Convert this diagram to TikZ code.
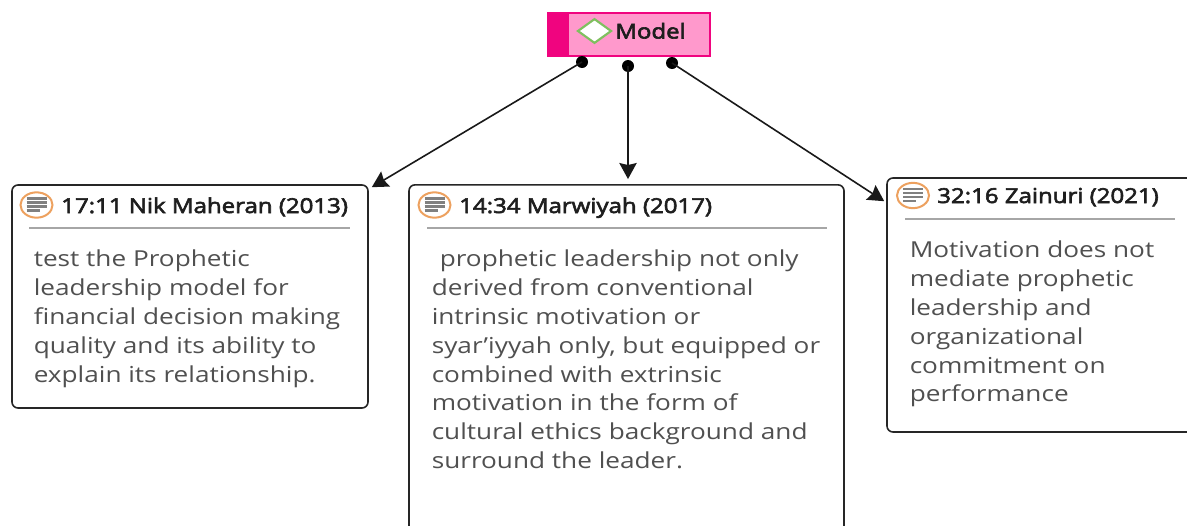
\documentclass[tikz,border=0pt]{standalone}
\usepackage{fontspec}
\setmainfont[FakeStretch=1.19]{Open Sans}
\newfontfamily\titlefont[FakeBold=3,FakeStretch=1.17]{Open Sans}
\usetikzlibrary{calc,shapes.geometric,arrows.meta}
\definecolor{pinkdark}{HTML}{F0047F}
\definecolor{pinkfill}{HTML}{FF99CC}
\definecolor{ringc}{HTML}{EDA15F}
\definecolor{greenc}{HTML}{7FC05F}
\definecolor{bodyc}{HTML}{505050}
\definecolor{titlec}{HTML}{1E1E1E}
\tikzset{
 note/.style={draw=black!85,line width=1.2pt,rounded corners=4.5pt,fill=white,inner sep=0pt},
 wire/.style={draw=black!90,line width=1.2pt,-{Stealth[length=12pt,width=13pt,inset=1.5pt]}},
 dotend/.style={circle,fill=black,inner sep=0pt,minimum size=9pt},
 ntitle/.style={anchor=base west,inner sep=0pt,text=titlec,font=\titlefont\fontsize{15.4}{18}\selectfont},
 nbody/.style={anchor=north west,inner sep=0pt,align=left,text=bodyc,font=\fontsize{16.5}{21.6}\selectfont},
 sep/.style={draw=black!35,line width=0.9pt},
 ring/.style={ellipse,draw=ringc,line width=1.5pt,fill=white,minimum width=24pt,minimum height=19pt,inner sep=0pt},
 ringline/.style={draw=black!50,line width=1.7pt},
}
\newcommand{\noteicon}[2]{%
 \node[ring] (#2) at (#1) {};
 \foreach \yy/\xa/\xb in {-6.5/-10/10,-2.5/-10/10,1.5/-10/10,5.5/-10/3}
   \draw[ringline] ($(#2)+(\xa,\yy)$) -- ($(#2)+(\xb,\yy)$);
}
\begin{document}
\begin{tikzpicture}[x=0.75pt,y=-0.75pt]
\useasboundingbox (0,0) rectangle (1187,525);
% Model
\node[draw=pinkdark,line width=1pt,fill=pinkfill,minimum width=122pt,minimum height=32.2pt,inner sep=0pt] (model) at (628.5,34.5) {};
\node[fill=pinkdark,minimum width=17pt,minimum height=32.2pt,inner sep=0pt,anchor=west] (mbar) at (model.west) {};
\node[diamond,draw=greenc,line width=1.6pt,fill=white,minimum width=25.5pt,minimum height=18.5pt,inner sep=0pt] (mdia) at (594.5,31) {};
\node[anchor=base west,inner sep=0pt,text=titlec,font=\titlefont\fontsize{15.4}{18}\selectfont] (mtext) at (615,38.5) {Model};
% Boxes
\node[note,minimum width=267pt,minimum height=167.25pt] (b1) at (190,296.5) {};
\node[note,minimum width=326.25pt,minimum height=262pt] (b2) at (626.5,359.5) {};
\node[note,minimum width=231pt,minimum height=190.5pt] (b3) at (1041,305) {};
% Icons
\noteicon{36.5,205}{i1}
\noteicon{434.5,205}{i2}
\noteicon{913,195.5}{i3}
% Titles
\node[ntitle] (t1) at (61,213) {17:11 Nik Maheran (2013)};
\node[ntitle] (t2) at (459,213) {14:34 Marwiyah (2017)};
\node[ntitle] (t3) at (937,203) {32:16 Zainuri (2021)};
% Separators
\coordinate (s1a) at (29,228); \coordinate (s1b) at (350,228);
\coordinate (s2a) at (427,228); \coordinate (s2b) at (827,228);
\coordinate (s3a) at (905,219); \coordinate (s3b) at (1175,219);
\draw[sep] (s1a) -- (s1b);
\draw[sep] (s2a) -- (s2b);
\draw[sep] (s3a) -- (s3b);
% Body
\node[nbody] (c1) at (33.5,250) {test the Prophetic\\leadership model for\\financial decision making\\quality and its ability to\\explain its relationship.};
\node[nbody] (c2) at (431.5,250) {\hspace*{6pt}prophetic leadership not only\\derived from conventional\\intrinsic motivation or\\syar'iyyah only, but equipped or\\combined with extrinsic\\motivation in the form of\\cultural ethics background and\\surround the leader.};
\node[nbody] (c3) at (909.5,241) {Motivation does not\\mediate prophetic\\leadership and\\organizational\\commitment on\\performance};
% Connectors
\node[dotend] (d1) at (582,62) {};
\node[dotend] (d2) at (628,66) {};
\node[dotend] (d3) at (672,63) {};
\draw[wire] (d1.center) -- ($(b1.north east)+(3,3)$);
\draw[wire] (d2.center) -- ($(b2.north)+(1.5,-5)$);
\draw[wire] (d3.center) -- ($(b3.north west)+(-2,24)$);
\end{tikzpicture}
\end{document}
